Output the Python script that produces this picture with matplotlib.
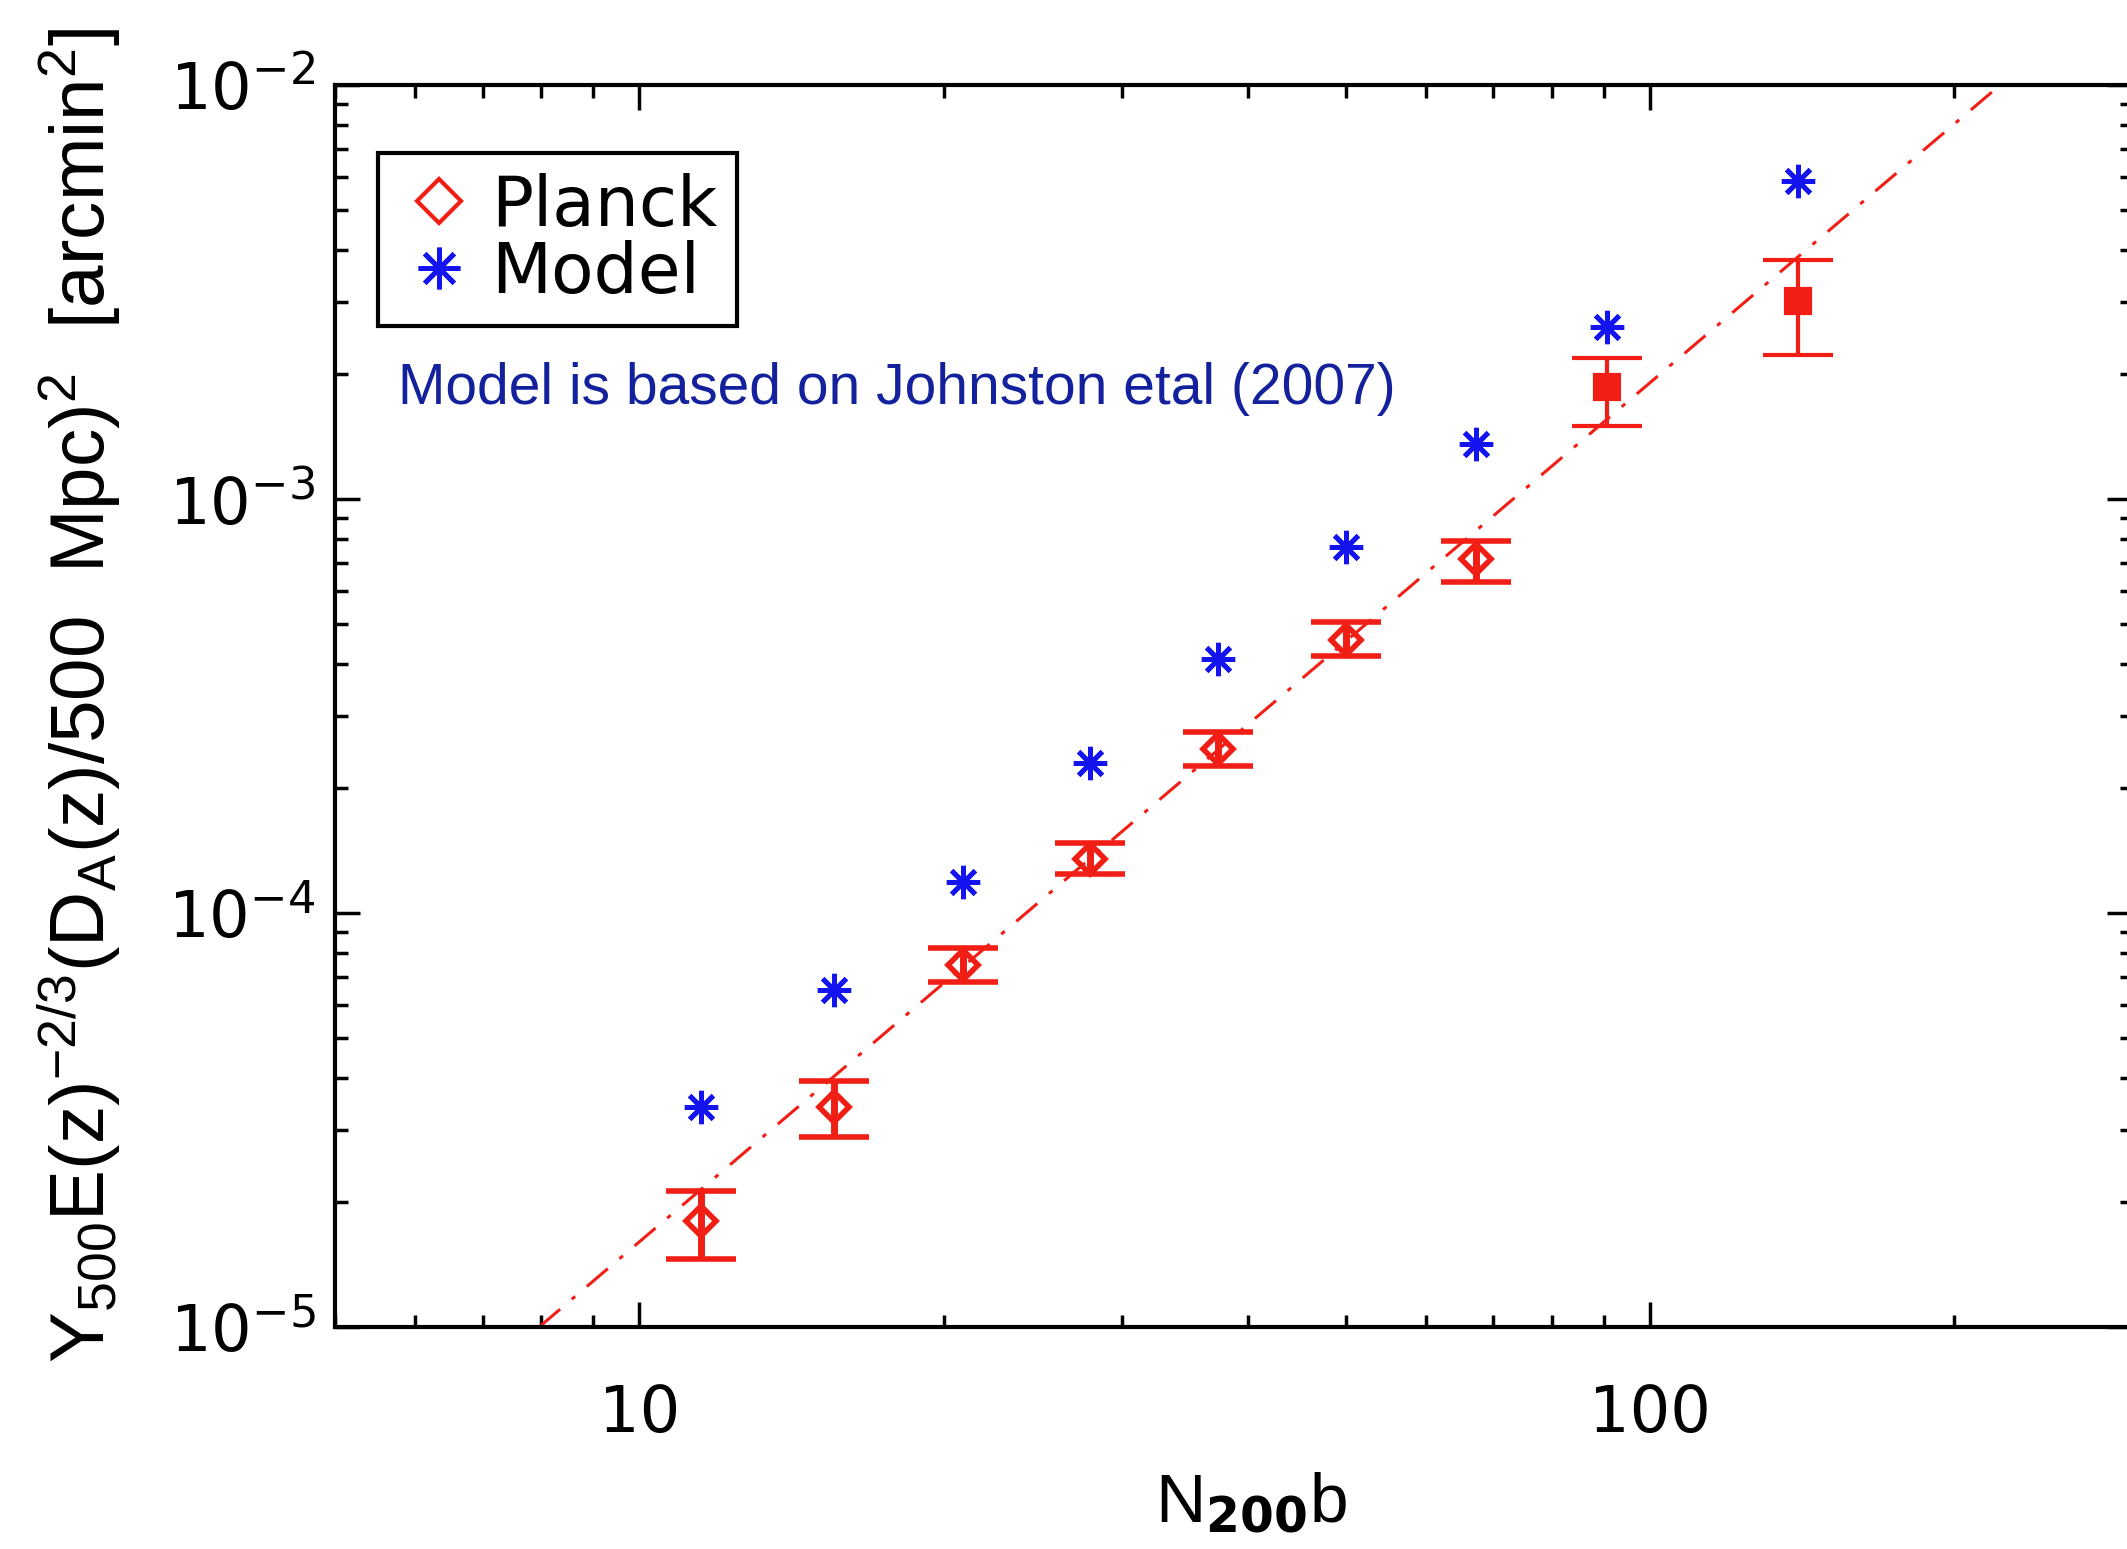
"""Y500 vs N200b scaling: Planck stacked measurements against model."""
import matplotlib

matplotlib.use("Agg")
import matplotlib.pyplot as plt  # noqa: E402
from matplotlib.lines import Line2D  # noqa: E402
from matplotlib.ticker import FuncFormatter, LogLocator, NullFormatter  # noqa: E402
import numpy as np  # noqa: E402

# richness bins
n200b = [11.5, 15.6, 20.9, 27.9, 37.4, 50.0, 67.3, 90.6, 140.0]
# Planck points and 1-sigma range
planck_y = [1.80e-5, 3.40e-5, 7.50e-5, 1.35e-4, 2.49e-4, 4.56e-4, 7.18e-4, 1.86e-3, 3.01e-3]
planck_hi = [2.13e-5, 3.92e-5, 8.22e-5, 1.48e-4, 2.73e-4, 5.04e-4, 7.91e-4, 2.19e-3, 3.78e-3]
planck_lo = [1.46e-5, 2.88e-5, 6.81e-5, 1.24e-4, 2.26e-4, 4.17e-4, 6.31e-4, 1.50e-3, 2.23e-3]
# model prediction
model_y = [3.40e-5, 6.50e-5, 1.19e-4, 2.30e-4, 4.10e-4, 7.67e-4, 1.36e-3, 2.61e-3, 5.85e-3]
# power-law fit (end points)
fit_x = [7.96, 222.0]
fit_y = [1e-5, 1e-2]

RED = "#f01e14"
BLUE = "#1414f0"
NAVY = "#14219c"
STAR = (8, 2, 0)

plt.rcParams["font.family"] = ["DejaVu Sans"]
plt.rcParams["mathtext.default"] = "regular"

fig = plt.figure(figsize=(21.27, 15.49), dpi=100)
ax = fig.add_axes([0.1575, 0.1433, 0.845, 0.8018])

ax.plot(fit_x, fit_y, color=RED, lw=2.2, ls=(0, (9, 5, 1.5, 5)))

y = np.array(planck_y)
yerr = np.array([y - np.array(planck_lo), np.array(planck_hi) - y])
# the low-richness bars are drawn heavier than the last two
ax.errorbar(n200b[:7], y[:7], yerr=yerr[:, :7], fmt="D", ms=15, mfc="none", mec=RED,
            mew=4, ecolor=RED, elinewidth=5, capsize=25, capthick=5)
ax.errorbar(n200b[7:], y[7:], yerr=yerr[:, 7:], fmt="s", ms=17, mfc=RED, mec=RED,
            mew=3, ecolor=RED, elinewidth=3, capsize=25, capthick=3.5)
ax.plot(n200b, model_y, ls="none", marker=STAR, ms=24, mew=3.5, color=BLUE)

ax.set_xscale("log")
ax.set_yscale("log")
ax.set_xlim(5, 300)
ax.set_ylim(1e-5, 1e-2)

for side in ax.spines.values():
    side.set_linewidth(3)
ax.xaxis.set_minor_locator(LogLocator(subs=np.arange(2, 10)))
ax.yaxis.set_minor_locator(LogLocator(subs=np.arange(2, 10)))
ax.xaxis.set_major_formatter(FuncFormatter(lambda v, _: f"{v:g}"))
ax.xaxis.set_minor_formatter(NullFormatter())
ax.tick_params(which="both", direction="in", top=True, right=True, width=2.5,
               labelsize=46)
ax.tick_params(which="major", length=18)
ax.tick_params(which="minor", length=9)
ax.tick_params(axis="x", which="major", pad=40)
ax.tick_params(axis="y", which="major", pad=14)

ax.set_ylabel(r"Y$_{500}$E(z)$^{-2/3}$(D$_{A}$(z)/500  Mpc)$^{2}$  [arcmin$^{2}$]",
              fontsize=55, family="Liberation Sans")
ax.yaxis.set_label_coords(-0.118, 0.509)
fig.text(0.588, 0.017, r"N$_{\mathbf{200}}$b", fontsize=50, ha="center", va="baseline",
         family="Liberation Sans")

handles = [
    Line2D([], [], ls="none", marker="D", ms=22, mfc="none", mec=RED, mew=3),
    Line2D([], [], ls="none", marker=STAR, ms=30, mew=3.5, color=BLUE),
]
leg = ax.legend(handles, ["Planck", "Model"], loc="upper left",
                bbox_to_anchor=(0.024, 0.945), fontsize=50, frameon=True,
                fancybox=False, framealpha=1, edgecolor="black",
                handlelength=1.2, handletextpad=0.15, labelspacing=0.0,
                borderpad=0.28, borderaxespad=0)
leg.get_frame().set_linewidth(3)

ax.text(0.035, 0.755, "Model is based on Johnston etal (2007)", transform=ax.transAxes,
        fontsize=41, color=NAVY, va="center", family="Liberation Sans")

fig.savefig("out.png", dpi=100)
